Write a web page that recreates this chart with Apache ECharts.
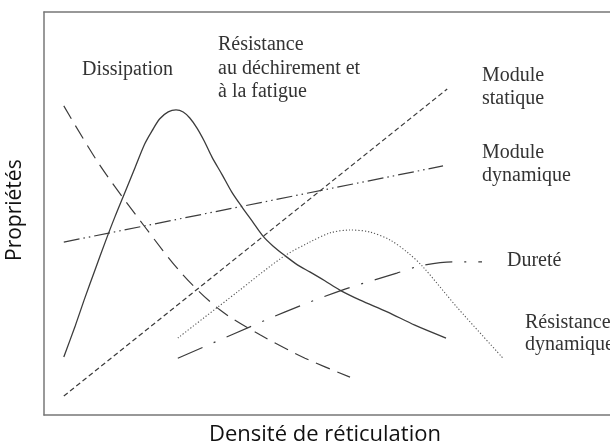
<!DOCTYPE html>
<html>
<head>
<meta charset="utf-8">
<script src="https://cdn.jsdelivr.net/npm/echarts@6/dist/echarts.min.js"></script>
<style>
  html, body { margin: 0; padding: 0; background: #fff; }
  #chart { width: 610px; height: 446px; }
</style>
</head>
<body>
<div id="chart"></div>
<script>
// Qualitative property curves vs. crosslink density (arbitrary units).
const tearFatigue = [[3.3,14.4],[5.2,22.1],[6.8,29.0],[8.5,36.0],[10.2,42.9],[11.8,49.1],[13.5,55.3],[15.2,61.5],[16.8,67.3],[18.0,70.5],[19.3,73.5],[20.7,75.2],[22.0,75.7],[23.2,75.2],[24.3,73.7],[25.5,71.2],[26.7,68.0],[28.0,64.0],[29.7,59.6],[31.3,55.3],[33.0,51.6],[34.7,48.1],[36.5,44.4],[38.2,41.9],[40.2,39.5],[42.3,37.2],[44.3,35.5],[46.8,33.3],[49.3,31.0],[52.7,28.5],[57.2,25.6],[61.8,22.3],[67.0,19.1]];
const dissipation = [[3.3,76.7],[9.3,62.0],[16.7,46.9],[23.2,34.7],[29.3,26.1],[36.0,19.9],[43.5,14.1],[51.0,9.4]];
const staticModulus = [[3.3,4.7],[67.2,80.9]];
const dynamicModulus = [[3.3,42.9],[66.5,61.8]];
const hardness = [[22.3,14.1],[31.3,19.9],[40.2,25.6],[49.7,31.0],[58.8,35.2],[62.7,37.0],[68.2,38.0],[73.0,38.0]];
const dynamicStrength = [[22.3,19.1],[32.2,30.5],[39.8,39.2],[44.3,42.9],[47.7,45.2],[51.0,45.9],[54.3,45.4],[57.7,43.4],[60.7,40.2],[63.2,36.7],[68.8,26.8],[76.5,14.1]];

const lineColor = '#3c3c3c';
const frameColor = '#777';
const serif = '"Liberation Serif", "Times New Roman", serif';
const sans = '"Open Sans", Lato, sans-serif';

function curve(data, type, width, smooth, color) {
  return {
    type: 'line',
    data: data,
    showSymbol: false,
    symbol: 'none',
    smooth: smooth,
    silent: true,
    lineStyle: { color: color || lineColor, width: width, type: type }
  };
}

function label(text, x, y, lh) {
  return {
    type: 'text',
    left: x, top: y,
    silent: true,
    style: { text: text, font: '20px ' + serif, fill: '#333', lineHeight: lh || 23 }
  };
}

const hidden = { axisTick: { show: false }, axisLabel: { show: false }, splitLine: { show: false } };
const frame = { show: true, lineStyle: { color: frameColor, width: 1.5 } };

const chart = echarts.init(document.getElementById('chart'), null, { renderer: 'canvas' });

chart.setOption({
  animation: false,
  grid: { left: 44, top: 12, right: 0, bottom: 31, show: false },
  xAxis: [
    Object.assign({ type: 'value', min: 0, max: 94.33, position: 'bottom', axisLine: frame }, hidden),
    Object.assign({ type: 'value', min: 0, max: 94.33, position: 'top', axisLine: frame }, hidden)
  ],
  yAxis: Object.assign({ type: 'value', min: 0, max: 100, axisLine: frame }, hidden),
  series: [
    curve(tearFatigue, 'solid', 1.3, 0.3),
    curve(dissipation, [15, 8], 1.2, 0.3),
    curve(staticModulus, [5, 3], 1.2, false),
    curve(dynamicModulus, [16, 4, 1.5, 4, 1.5, 4], 1.2, false),
    curve(hardness, [27, 12, 2, 12], 1.2, 0.3),
    curve(dynamicStrength, [1.2, 2], 1.1, 0.3, '#555')
  ],
  graphic: [
    label('Dissipation', 82, 58),
    label('Résistance\nau déchirement et\nà la fatigue', 218, 33, 23.5),
    label('Module\nstatique', 482, 64),
    label('Module\ndynamique', 482, 141),
    label('Dureté', 507, 249),
    label('Résistance\ndynamique', 525, 312, 22),
    {
      type: 'text', left: 209, top: 424, silent: true,
      style: { text: 'Densité de réticulation', font: '22px ' + sans, fill: '#111' }
    },
    {
      type: 'text', silent: true, rotation: Math.PI / 2, x: 5, y: 261,
      style: { text: 'Propriétés', font: '21px ' + sans, fill: '#111' }
    }
  ]
});
</script>
</body>
</html>
